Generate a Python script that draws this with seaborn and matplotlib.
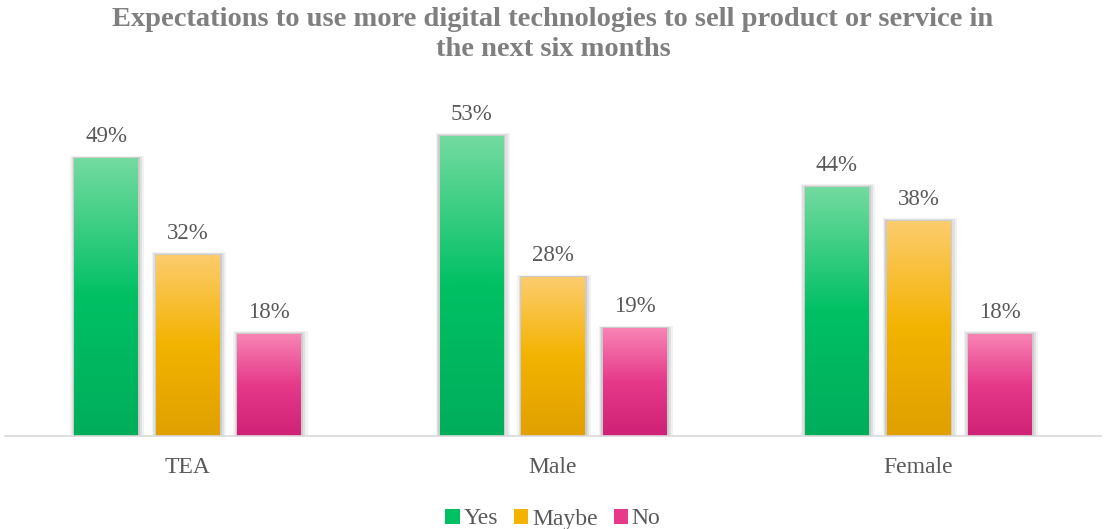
import numpy as np
import pandas as pd
import matplotlib
matplotlib.use("Agg")
import matplotlib.pyplot as plt
from matplotlib.patches import Rectangle, Patch
from matplotlib.colors import LinearSegmentedColormap
import seaborn as sns

groups = ["TEA", "Male", "Female"]
responses = ["Yes", "Maybe", "No"]
yes_vals = [49, 53, 44]
maybe_vals = [32, 28, 38]
no_vals = [18, 19, 18]

# gradient stops (top, middle, bottom) for each response
gradients = {
    "Yes": ["#74dba0", "#00c064", "#00ad5b"],
    "Maybe": ["#fdcc6e", "#f3b300", "#e0a000"],
    "No": ["#f884b4", "#e6398a", "#cf2276"],
}

df = pd.DataFrame({
    "group": np.repeat(groups, len(responses)),
    "response": responses * len(groups),
    "value": [v for trio in zip(yes_vals, maybe_vals, no_vals) for v in trio],
})

sns.set_theme(style="white")
plt.rcParams["font.family"] = ["Liberation Serif", "DejaVu Serif"]

fig = plt.figure(figsize=(11.06, 5.29), dpi=100)
ax = fig.add_axes([5 / 1106, 1 - 436 / 529, 1096 / 1106, 340 / 529])

palette = {r: gradients[r][1] for r in responses}
sns.barplot(data=df, x="group", y="value", hue="response", order=groups,
            hue_order=responses, palette=palette, width=0.67, gap=0.22,
            legend=False, ax=ax, saturation=1)

ax.set_xlim(-0.5, 2.5)
ax.set_ylim(0, 60)

# bars come out ordered by hue level, then by group
bars = list(ax.patches)
for resp_i, resp in enumerate(responses):
    cmap = LinearSegmentedColormap.from_list(resp, gradients[resp][::-1])
    for g_i, g in enumerate(groups):
        bar = bars[resp_i * len(groups) + g_i]
        x0, y0 = bar.get_x(), bar.get_y()
        w, h = bar.get_width(), bar.get_height()
        # soft shadow around the bar
        for pad, alpha in [(0.018, 0.05), (0.012, 0.07), (0.006, 0.09)]:
            ax.add_patch(Rectangle((x0 - pad * 0.6, y0), w + pad * 1.6, h + pad * 25,
                                   facecolor="#000000", alpha=alpha, lw=0, zorder=1))
        # vertical gradient fill clipped to the bar
        grad = np.linspace(0, 1, 256).reshape(-1, 1)
        im = ax.imshow(grad, cmap=cmap, origin="lower", aspect="auto",
                       extent=[x0, x0 + w, y0, y0 + h], zorder=2)
        im.set_clip_path(bar)
        bar.set_zorder(2)
        bar.set_edgecolor("none")

        val = df[(df.group == g) & (df.response == resp)]["value"].iloc[0]
        ax.annotate(f"{val}%", (x0 + w / 2, val), xytext=(0, 15.5),
                    textcoords="offset points", ha="center", va="center",
                    fontsize=16.5, color="#595959")

ax.set_xlim(-0.5, 2.5)
ax.set_ylim(0, 60)

sns.despine(ax=ax, left=True, top=True, right=True)
ax.spines["bottom"].set_color("#d9d9d9")
ax.spines["bottom"].set_linewidth(1.2)
ax.set_yticks([])
ax.set_xlabel("")
ax.set_ylabel("")
ax.tick_params(axis="x", length=0, pad=15, labelsize=17, labelcolor="#595959")

fig.text(0.5, 1 - 19 / 529, "Expectations to use more digital technologies to sell product or service in",
         ha="center", va="center", fontsize=20.5, fontweight="bold", color="#7f7f7f")
fig.text(0.5, 1 - 50 / 529, "the next six months",
         ha="center", va="center", fontsize=20.5, fontweight="bold", color="#7f7f7f")

handles = [Patch(facecolor=gradients[r][1], edgecolor="none", label=r) for r in responses]
fig.legend(handles=handles, loc="center", bbox_to_anchor=(0.5, 1 - 519 / 529), ncol=3,
           frameon=False, fontsize=17, handlelength=0.6, handleheight=0.6,
           handletextpad=0.15, columnspacing=0.7, labelcolor="#595959",
           borderpad=0, borderaxespad=0)

fig.savefig("out.png", dpi=100)
